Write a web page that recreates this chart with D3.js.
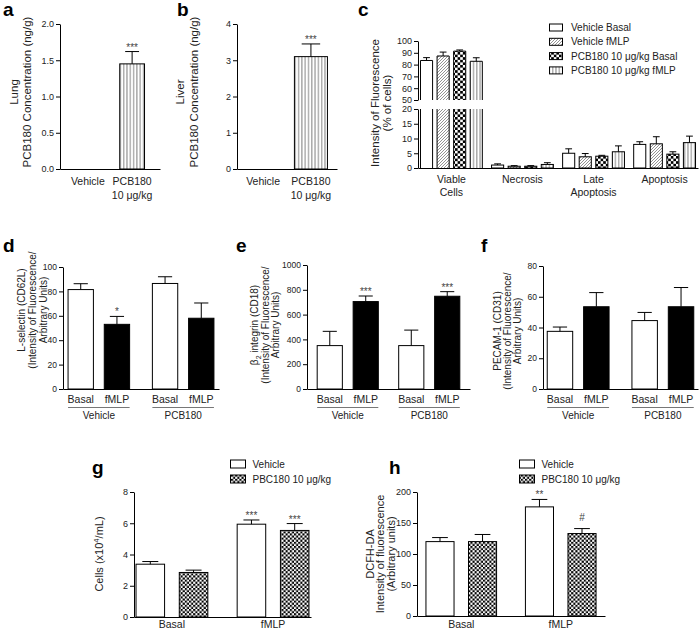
<!DOCTYPE html>
<html><head><meta charset="utf-8">
<script src="https://cdn.jsdelivr.net/npm/d3@7"></script>
<style>
body{margin:0;background:#fff}
svg{font-family:"Liberation Sans",Arial,sans-serif}
</style></head><body>
<svg id="fig" width="700" height="630"></svg>
<script>
// ---------- data ----------
// a, b: PCB180 tissue concentration
const concCats = ["Vehicle", "PCB180"];
const concSub = ["", "10 μg/kg"];
const lungMean = [0, 1.45];
const lungErr = [0, 0.17];
const liverMean = [0, 3.1];
const liverErr = [0, 0.35];
const concSig = ["", "***"];

// c: viability (% of cells)
const cCats = ["Viable Cells", "Necrosis", "Late Apoptosis", "Apoptosis"];
const cCatLines = [["Viable", "Cells"], ["Necrosis"], ["Late", "Apoptosis"], ["Apoptosis"]];
const cSeries = ["Vehicle Basal", "Vehicle fMLP", "PCB180 10 μg/kg Basal", "PCB180 10 μg/kg fMLP"];
const cVehBasal = [83.5, 1.0, 5.0, 8.0];
const cVehBasalErr = [2.4, 0.4, 1.5, 0.9];
const cVehFmlp = [87.3, 0.6, 3.8, 8.2];
const cVehFmlpErr = [3.3, 0.2, 1.1, 2.4];
const cPcbBasal = [91.4, 0.6, 4.0, 4.7];
const cPcbBasalErr = [1.0, 0.2, 0.3, 0.8];
const cPcbFmlp = [82.8, 1.2, 5.5, 8.6];
const cPcbFmlpErr = [3.0, 0.6, 2.0, 2.2];

// d, e, f: adhesion molecules (order: Vehicle Basal, Vehicle fMLP, PCB180 Basal, PCB180 fMLP)
const treatGroups = ["Vehicle", "PCB180"];
const stimConds = ["Basal", "fMLP"];
const dMean = [81.5, 53, 86.5, 58];
const dErr = [4.8, 6.5, 5.5, 12.5];
const dSig = ["", "*", "", ""];
const eMean = [350, 705, 350, 748];
const eErr = [115, 45, 125, 37];
const eSig = ["", "***", "", "***"];
const fMean = [37.5, 53.5, 44.5, 53.5];
const fErr = [2.8, 9.2, 5.3, 12.5];
const fSig = ["", "", "", ""];

// g, h: cell counts and DCFH-DA (groups Basal, fMLP)
const ghGroups = ["Basal", "fMLP"];
const ghSeries = ["Vehicle", "PBC180 10 μg/kg"];
const gVeh = [3.38, 5.94];
const gVehErr = [0.17, 0.27];
const gPcb = [2.85, 5.54];
const gPcbErr = [0.15, 0.44];
const gVehSig = ["", "***"];
const gPcbSig = ["", "***"];
const hVeh = [120, 176];
const hVehErr = [6.5, 12];
const hPcb = [120, 133];
const hPcbErr = [11.5, 8];
const hVehSig = ["", "**"];
const hPcbSig = ["", "#"];

// ---------- setup ----------
const svg = d3.select("#fig");
const defs = svg.append("defs");
const INK = "#222";

function pat(id, w, h, draw) {
  const p = defs.append("pattern").attr("id", id)
    .attr("patternUnits", "userSpaceOnUse").attr("width", w).attr("height", h);
  p.append("rect").attr("width", w).attr("height", h).attr("fill", "#fff");
  draw(p);
}
pat("vstripe", 3.3, 4, p => p.append("line").attr("x1", 1.6).attr("x2", 1.6)
  .attr("y1", 0).attr("y2", 4).attr("stroke", "#555").attr("stroke-width", 0.8));
pat("diag", 3, 3, p => p.append("path").attr("d", "M0,3L3,0M-1,1L1,-1M2,4L4,2")
  .attr("stroke", "#666").attr("stroke-width", 0.7));
function checker(id, s) {
  pat(id, s * 2, s * 2, p => {
    p.append("rect").attr("width", s).attr("height", s).attr("fill", "#000");
    p.append("rect").attr("x", s).attr("y", s).attr("width", s).attr("height", s).attr("fill", "#000");
  });
}
checker("checkC", 2.6);
checker("check", 2.1);

function letter(x, y, t) {
  svg.append("text").attr("x", x).attr("y", y).attr("font-size", 19)
    .attr("font-weight", "bold").attr("fill", "#000").text(t);
}

function richLine(parent, str, fs) {
  let shift = 0;
  str.split(/([_^]\d)/).forEach(p => {
    if (!p) return;
    if (p[0] === "_" || p[0] === "^") {
      const d = p[0] === "_" ? fs * 0.3 : -fs * 0.4;
      parent.append("tspan").attr("dy", d).attr("font-size", fs * 0.7).text(p.slice(1));
      shift = d;
    } else {
      parent.append("tspan").attr("dy", -shift).text(p);
      shift = 0;
    }
  });
}

function yLabel(cx, cy, lines, fs, gap) {
  const t = svg.append("text").attr("transform", `translate(${cx},${cy}) rotate(-90)`)
    .attr("text-anchor", "middle").attr("font-size", fs).attr("fill", INK);
  lines.forEach((ln, i) => {
    const l = t.append("tspan").attr("x", 0).attr("y", i * gap).attr("dy", "0.35em");
    richLine(l, ln, fs);
  });
}

function yAxis(x, y, ticks, fmt, fs = 9) {
  const g = svg.append("g").attr("transform", `translate(${x},0)`)
    .call(d3.axisLeft(y).tickValues(ticks).tickFormat(fmt).tickSize(4).tickSizeOuter(0).tickPadding(2));
  g.attr("font-family", null).attr("font-size", null);
  g.selectAll("text").attr("font-size", fs).attr("fill", INK);
  g.selectAll("line,path").attr("stroke", "#000");
  return g;
}

function xLine(y, x) {
  const g = svg.append("g").attr("transform", `translate(0,${y})`)
    .call(d3.axisBottom(x).tickSize(0).tickSizeOuter(0).tickFormat(""));
  g.selectAll(".domain").attr("stroke", "#000");
  return g;
}

function textAt(x, y, t, fs, anchor = "middle", fill = INK) {
  return svg.append("text").attr("x", x).attr("y", y).attr("font-size", fs)
    .attr("text-anchor", anchor).attr("fill", fill).text(t);
}

// one bar with upward error bar and optional significance mark
function bar(x, w, v, e, y, fill, sig) {
  if (v <= 0) return;
  svg.append("rect").attr("x", x).attr("y", y(v)).attr("width", w)
    .attr("height", y(0) - y(v)).attr("fill", fill).attr("stroke", "#000").attr("stroke-width", 1);
  errBar(x + w / 2, w, y(v), y(v + e), sig);
}
function errBar(cx, w, y0, y1, sig) {
  const cw = w * 0.28;
  svg.append("path").attr("d", `M${cx},${y0}V${y1}M${cx - cw},${y1}H${cx + cw}`)
    .attr("stroke", "#000").attr("stroke-width", 1).attr("fill", "none");
  if (sig) {
    const isHash = sig === "#";
    textAt(cx, y1 - (isHash ? 8 : 1), sig, 10, "middle", "#444");
  }
}

// ---------- a ----------
letter(3, 16, "a");
const xa = d3.scaleBand().domain(concCats).range([60, 160]).paddingInner(0.44).paddingOuter(0.35);
const ya = d3.scaleLinear().domain([0, 2]).range([169, 24]);
yAxis(60, ya, [0, 0.5, 1, 1.5, 2], d3.format(".1f"));
xLine(169, xa);
concCats.forEach((c, i) => bar(xa(c), xa.bandwidth(), lungMean[i], lungErr[i], ya, "url(#vstripe)", concSig[i]));
concCats.forEach((c, i) => {
  textAt(xa(c) + xa.bandwidth() / 2, 185, c, 10.5);
  if (concSub[i]) textAt(xa(c) + xa.bandwidth() / 2, 199, concSub[i], 10.5);
});
yLabel(17.5, 92, ["Lung", "PCB180 Concentration (ng/g)"], 11.5, 13.5);

// ---------- b ----------
letter(177, 16, "b");
const xb = d3.scaleBand().domain(concCats).range([237, 337]).paddingInner(0.31).paddingOuter(0.2);
const yb = d3.scaleLinear().domain([0, 4]).range([169, 24]);
yAxis(237, yb, [0, 1, 2, 3, 4], d3.format("d"));
xLine(169, xb);
concCats.forEach((c, i) => bar(xb(c), xb.bandwidth(), liverMean[i], liverErr[i], yb, "url(#vstripe)", concSig[i]));
concCats.forEach((c, i) => {
  textAt(xb(c) + xb.bandwidth() / 2, 185, c, 10.5);
  if (concSub[i]) textAt(xb(c) + xb.bandwidth() / 2, 199, concSub[i], 10.5);
});
yLabel(184, 92, ["Liver", "PCB180 Concentration (ng/g)"], 11.5, 14);

// ---------- c (broken axis) ----------
letter(358, 16, "c");
const xc = d3.scaleBand().domain(cCats).range([418, 698]).paddingInner(0.13).paddingOuter(0.035);
const xcIn = d3.scaleBand().domain(cSeries).range([0, xc.bandwidth()]).paddingInner(0.27);
const ycTop = d3.scaleLinear().domain([50, 100]).range([100, 41]);
const ycBot = d3.scaleLinear().domain([0, 20]).range([168, 109]);
yAxis(418, ycTop, [50, 60, 70, 80, 90, 100], d3.format("d"));
yAxis(418, ycBot, [0, 5, 10, 15, 20], d3.format("d"));
xLine(168, xc);
const cFills = ["#fff", "url(#diag)", "url(#checkC)", "url(#vstripe)"];
const cVals = [cVehBasal, cVehFmlp, cPcbBasal, cPcbFmlp];
const cErrs = [cVehBasalErr, cVehFmlpErr, cPcbBasalErr, cPcbFmlpErr];
cCats.forEach((cat, ci) => {
  cSeries.forEach((s, si) => {
    const x = xc(cat) + xcIn(s), w = xcIn.bandwidth();
    const v = cVals[si][ci], e = cErrs[si][ci];
    if (v <= 20) {
      bar(x, w, v, e, ycBot, cFills[si], "");
    } else {
      // lower segment, open at the break
      svg.append("rect").attr("x", x).attr("y", ycBot(20)).attr("width", w)
        .attr("height", ycBot(0) - ycBot(20)).attr("fill", cFills[si]);
      svg.append("path").attr("d", `M${x},${ycBot(0)}V${ycBot(20)}M${x + w},${ycBot(20)}V${ycBot(0)}`)
        .attr("stroke", "#000").attr("fill", "none");
      // upper segment
      svg.append("rect").attr("x", x).attr("y", ycTop(v)).attr("width", w)
        .attr("height", ycTop(50) - ycTop(v)).attr("fill", cFills[si]);
      svg.append("path").attr("d", `M${x},${ycTop(50)}V${ycTop(v)}H${x + w}V${ycTop(50)}`)
        .attr("stroke", "#000").attr("fill", "none");
      errBar(x + w / 2, w, ycTop(v), ycTop(v + e), "");
    }
  });
});
cCats.forEach((cat, ci) => {
  cCatLines[ci].forEach((ln, li) => textAt(xc(cat) + xc.bandwidth() / 2, 183 + li * 13, ln, 10.5));
});
yLabel(379, 103, ["Intensity of Fluorescence", "(% of cells)"], 11.5, 11.5);
cSeries.forEach((s, i) => {
  const y = 27.5 + i * 14.3;
  svg.append("rect").attr("x", 549.5).attr("y", y - 3.5).attr("width", 13).attr("height", 7)
    .attr("fill", cFills[i]).attr("stroke", "#000");
  textAt(571, y + 3.6, s, 10, "start");
});

// ---------- d, e, f ----------
function adhesion(cfg) {
  const x0 = d3.scaleBand().domain(treatGroups).range(cfg.xr).paddingInner(cfg.pi).paddingOuter(cfg.po);
  const x1 = d3.scaleBand().domain(stimConds).range([0, x0.bandwidth()]).paddingInner(0.3);
  const y = d3.scaleLinear().domain([0, cfg.max]).range([389, cfg.top]);
  yAxis(cfg.xr[0], y, cfg.ticks, d3.format("d"), 8.5);
  xLine(389, x0);
  treatGroups.forEach((g, gi) => {
    stimConds.forEach((c, ci) => {
      const k = gi * 2 + ci;
      bar(x0(g) + x1(c), x1.bandwidth(), cfg.mean[k], cfg.err[k], y, ci ? "#000" : "#fff", cfg.sig[k]);
      textAt(x0(g) + x1(c) + x1.bandwidth() / 2, 403, c, 10.5);
    });
    svg.append("line").attr("x1", x0(g)).attr("x2", x0(g) + x0.bandwidth())
      .attr("y1", 407.5).attr("y2", 407.5).attr("stroke", "#777");
    textAt(x0(g) + x0.bandwidth() / 2, 419, g, 10);
  });
  yLabel(cfg.lx, cfg.ly, cfg.label, 10, cfg.lgap);
}
letter(3, 252, "d");
adhesion({xr: [63, 219], pi: 0.27, po: 0.06, max: 100, top: 267, ticks: [0, 20, 40, 60, 80, 100],
  mean: dMean, err: dErr, sig: dSig, lx: 25, ly: 310, lgap: 11,
  label: ["L-selectin (CD62L)", "(Intensity of Fluorescence/", "Arbitrary Units)"]});
letter(236, 252, "e");
adhesion({xr: [307, 470], pi: 0.25, po: 0.125, max: 1000, top: 265, ticks: [0, 200, 400, 600, 800, 1000],
  mean: eMean, err: eErr, sig: eSig, lx: 258, ly: 325, lgap: 10.5,
  label: ["β_2 integrin (CD18)", "(Intensity of Fluorescence/", "Arbitrary Units)"]});
letter(481, 252, "f");
adhesion({xr: [543, 698], pi: 0.27, po: 0.05, max: 80, top: 266, ticks: [0, 20, 40, 60, 80],
  mean: fMean, err: fErr, sig: fSig, lx: 501, ly: 331, lgap: 10,
  label: ["PECAM-1 (CD31)", "(Intensity of Fluorescence/", "Arbitrary Units)"]});

// ---------- g, h ----------
function paired(cfg) {
  const x0 = d3.scaleBand().domain(ghGroups).range(cfg.xr).paddingInner(0.29).paddingOuter(cfg.po);
  const x1 = d3.scaleBand().domain(ghSeries).range([0, x0.bandwidth()]).paddingInner(0.34);
  const y = d3.scaleLinear().domain([0, cfg.max]).range([cfg.bottom, 492]);
  yAxis(cfg.xr[0], y, cfg.ticks, d3.format("d"), 9);
  xLine(cfg.bottom, x0);
  const fills = ["#fff", "url(#check)"];
  ghGroups.forEach((g, gi) => {
    ghSeries.forEach((s, si) => {
      bar(x0(g) + x1(s), x1.bandwidth(), cfg.vals[si][gi], cfg.errs[si][gi], y, fills[si], cfg.sigs[si][gi]);
    });
    textAt(x0(g) + x0.bandwidth() / 2, 628, g, 10.5);
  });
  ghSeries.forEach((s, i) => {
    const ly = 464 + i * 15;
    svg.append("rect").attr("x", cfg.lgx).attr("y", ly - 4).attr("width", 15).attr("height", 8)
      .attr("fill", fills[i]).attr("stroke", "#000");
    textAt(cfg.lgx + 22, ly + 3.8, s, 10, "start");
  });
  yLabel(cfg.lx, 554, cfg.label, 11, 10.5);
}
letter(92, 474, "g");
paired({xr: [134, 311], po: 0.02, max: 8, bottom: 617, ticks: [0, 2, 4, 6, 8],
  vals: [gVeh, gPcb], errs: [gVehErr, gPcbErr], sigs: [gVehSig, gPcbSig],
  lgx: 230.5, lx: 103, label: ["Cells (x10^4/mL)"]});
letter(389, 474, "h");
paired({xr: [417, 605], po: 0.09, max: 200, bottom: 616, ticks: [0, 50, 100, 150, 200],
  vals: [hVeh, hPcb], errs: [hVehErr, hPcbErr], sigs: [hVehSig, hPcbSig],
  lgx: 519.5, lx: 373.5, label: ["DCFH-DA", "Intensity of fluorescence", "(Arbitrary units)"]});
</script>
</body></html>
